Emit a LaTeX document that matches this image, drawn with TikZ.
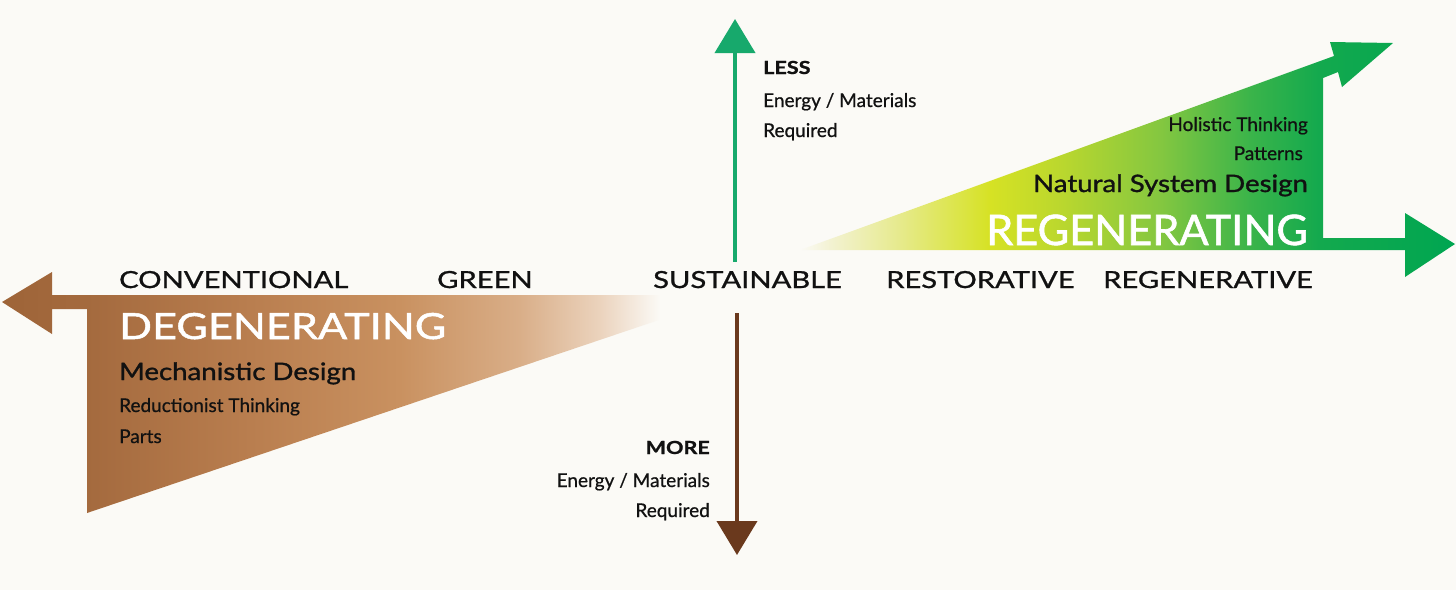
\documentclass[tikz,border=0pt]{standalone}
\usepackage{fontspec}
\setmainfont{Lato}
\newfontfamily\smallfont{Lato}[FakeBold=0.7]
\newfontfamily\capsfont{Lato}[FakeStretch=1.24, FakeBold=1.1]
\newfontfamily\bigfont{Lato}[FakeStretch=1.2, FakeBold=1.4]
\newfontfamily\regenfont{Lato}[FakeStretch=1.03, FakeBold=1.4]
\newfontfamily\designfont{Lato}[FakeStretch=1.15, FakeBold=1.3]
\newfontfamily\keyfont{Lato}[FakeStretch=1.2, FakeBold=1.0]
\usetikzlibrary{
  positioning,
  arrows.meta
}
\definecolor{bgCol}{HTML}{FBFAF6}
\definecolor{upGreen}{HTML}{17A96C}
\definecolor{downBrown}{HTML}{6A391D}
\definecolor{txtBlack}{HTML}{111111}
\definecolor{brA}{HTML}{9E6438}
\definecolor{brB}{HTML}{A46A3E}
\definecolor{brC}{HTML}{B97E4F}
\definecolor{brD}{HTML}{C99160}
\definecolor{brE}{HTML}{D9AE88}
\definecolor{brF}{HTML}{EBD3BD}
\definecolor{grA}{HTML}{F3F2D2}
\definecolor{grB}{HTML}{E6EA8C}
\definecolor{grC}{HTML}{D6E224}
\definecolor{grD}{HTML}{BAD72E}
\definecolor{grE}{HTML}{84C740}
\definecolor{grF}{HTML}{3AB44A}
\definecolor{grG}{HTML}{13A94E}
\definecolor{grH}{HTML}{00A651}
\pgfdeclarehorizontalshading{degenShade}{100bp}{
  color(0bp)=(brA); color(25bp)=(brA); color(30.8bp)=(brB);
  color(42bp)=(brC); color(52.2bp)=(brD); color(60.4bp)=(brE);
  color(65.9bp)=(brF); color(70bp)=(bgCol); color(100bp)=(bgCol)}
\pgfdeclarehorizontalshading{regenShade}{100bp}{
  color(0bp)=(bgCol); color(25bp)=(bgCol); color(27.3bp)=(grA);
  color(32.6bp)=(grB); color(39.5bp)=(grC); color(45bp)=(grD);
  color(52.5bp)=(grE); color(59.4bp)=(grF); color(64.7bp)=(grG);
  color(75bp)=(grH); color(100bp)=(grH)}

\begin{document}
\begin{tikzpicture}[
  x=1pt, y=-1pt,
  every node/.style={inner sep=0pt, text=txtBlack},
  axislabel/.style={font=\capsfont\fontsize{23.5}{28}\selectfont, anchor=base west},
  bigword/.style={font=\bigfont\fontsize{36}{40}\selectfont, text=white},
  designlabel/.style={font=\designfont\fontsize{24}{28}\selectfont},
  smalllabel/.style={font=\smallfont\fontsize{19}{22}\selectfont},
  keyword/.style={font=\keyfont\fontsize{18}{20}\selectfont\bfseries},
  vertarrow/.style={line width=4pt, -{Triangle[length=34pt,width=40pt]}}
]
 \fill[bgCol] (0,0) rectangle (1456,590);
 \useasboundingbox (0,0) rectangle (1456,590);

 % Degenerating wedge with the arrow to the left
 \shade[shading=degenShade] (733,295) -- (52,295) -- (52,272) -- (2,302)
   -- (52,334) -- (52,309) -- (87,309) -- (87,513) -- cycle;

 % Regenerating wedge with the two arrows to the right
 \shade[shading=regenShade] (800,250) -- (1405,250) -- (1405,277) -- (1455,244)
   -- (1405,213) -- (1405,238) -- (1323,238) -- (1323,78) -- (1338,72)
   -- (1342,87) -- (1393,43) -- (1330,42) -- (1334,56) -- cycle;

 % Vertical axis
 \coordinate (lessfoot) at (735,262);
 \coordinate (lesstip)  at (735,19);
 \coordinate (morefoot) at (737,313);
 \coordinate (moretip)  at (737,555);
 \draw[vertarrow, draw=upGreen, fill=upGreen] (lessfoot) -- (lesstip);
 \draw[vertarrow, draw=downBrown, fill=downBrown] (morefoot) -- (moretip);

 \node[keyword, anchor=base west]    (less)  at (763,74)  {LESS};
 \node[smalllabel, anchor=base west] (lessa) at (763,107) {Energy / Materials};
 \node[smalllabel, anchor=base west] (lessb) at (763,137) {Required};

 \node[keyword, anchor=base east]    (more)  at (710,454) {MORE};
 \node[smalllabel, anchor=base east] (morea) at (710,487) {Energy / Materials};
 \node[smalllabel, anchor=base east] (moreb) at (710,517) {Required};

 % Horizontal axis labels
 \node[axislabel] (conv)  at (119,288)  {CONVENTIONAL};
 \node[axislabel] (green) at (437,288)  {GREEN};
 \node[axislabel] (sust)  at (653,288)  {SUSTAINABLE};
 \node[axislabel] (rest)  at (886,288)  {RESTORATIVE};
 \node[axislabel] (regv)  at (1103,288) {REGENERATIVE};

 % Degenerating side
 \node[bigword, anchor=base west]     (degen) at (119,339) {DEGENERATING};
 \node[designlabel, anchor=base west] (mech)  at (119,380) {Mechanistic Design};
 \node[smalllabel, anchor=base west]  (reduc) at (119,412) {Reductionist Thinking};
 \node[smalllabel, anchor=base west]  (parts) at (119,443) {Parts};

 % Regenerating side
 \node[bigword, font=\regenfont\fontsize{42}{46}\selectfont, anchor=base east]
                                      (regen) at (1308,245) {REGENERATING};
 \node[designlabel, anchor=base east] (natur) at (1308,192) {Natural System Design};
 \node[smalllabel, anchor=base east]  (patt)  at (1303,160) {Patterns};
 \node[smalllabel, anchor=base east]  (holis) at (1308,131) {Holistic Thinking};
\end{tikzpicture}
\end{document}
